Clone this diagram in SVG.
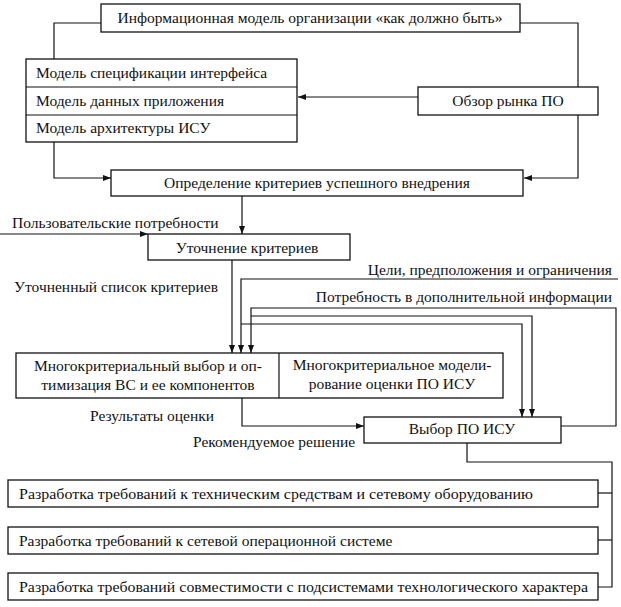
<svg xmlns="http://www.w3.org/2000/svg" width="621" height="607" viewBox="0 0 621 607" font-family="Liberation Serif" font-size="15.5">
<defs>
<marker id="ah" viewBox="0 0 8 6" refX="8" refY="3" markerWidth="8" markerHeight="6" markerUnits="userSpaceOnUse" orient="auto">
<path d="M0,0 L8,3 L0,6 Z" fill="#111"/>
</marker>
</defs>
<style>
rect{fill:#fff;stroke:#111;stroke-width:1.3}
.ln{fill:none;stroke:#111;stroke-width:1.2}
.d{stroke:#111;stroke-width:1.2}
text{fill:#111}
.c{text-anchor:middle}
.r{text-anchor:end}
</style>
<rect width="621" height="607" style="fill:#fff;stroke:none"/>
<g id="connectors">
<polyline class="ln" points="101,23 54,23 54,59"/>
<polyline class="ln" points="520,23 578,23 578,178 524,178" marker-end="url(#ah)"/>
<polyline class="ln" points="418,97 298,97" marker-end="url(#ah)"/>
<polyline class="ln" points="54,142 54,178 111,178" marker-end="url(#ah)"/>
<polyline class="ln" points="242,196 242,234" marker-end="url(#ah)"/>
<polyline class="ln" points="0,234 148,234" marker-end="url(#ah)"/>
<polyline class="ln" points="232,260 232,353" marker-end="url(#ah)"/>
<polyline class="ln" points="618,279 241,279 241,353" marker-end="url(#ah)"/>
<polyline class="ln" points="561,426 616,426 616,308 251,308 251,353" marker-end="url(#ah)"/>
<polyline class="ln" points="251,316 532,316 532,417" marker-end="url(#ah)"/>
<polyline class="ln" points="241,324 522,324 522,417" marker-end="url(#ah)"/>
<polyline class="ln" points="242,398 242,426 364,426" marker-end="url(#ah)"/>
<polyline class="ln" points="467,443 467,462 612,462 612,587 598,587"/>
<polyline class="ln" points="598,493 612,493"/>
<polyline class="ln" points="598,540 612,540"/>
<text x="12" y="228">Пользовательские потребности</text>
<text x="14" y="292">Уточненный список критериев</text>
<text x="612" y="275" class="r">Цели, предположения и ограничения</text>
<text x="612" y="302" class="r">Потребность в дополнительной информации</text>
<text x="90" y="421">Результаты оценки</text>
<text x="193" y="447">Рекомендуемое решение</text>
</g>
<g id="node-info-model">
<rect x="101" y="4" width="419" height="28"/>
<text x="310" y="23" class="c">Информационная модель организации «как должно быть»</text>
</g>
<g id="node-models">
<rect x="26" y="59" width="271" height="83"/>
<line class="d" x1="26" y1="87" x2="297" y2="87"/>
<line class="d" x1="26" y1="115" x2="297" y2="115"/>
<text x="36" y="78">Модель спецификации интерфейса</text>
<text x="36" y="106">Модель данных приложения</text>
<text x="36" y="133">Модель архитектуры ИСУ</text>
</g>
<g id="node-market">
<rect x="418" y="87" width="180" height="28"/>
<text x="508" y="106" class="c">Обзор рынка ПО</text>
</g>
<g id="node-criteria">
<rect x="111" y="170" width="412" height="26"/>
<text x="317" y="188" class="c">Определение критериев успешного внедрения</text>
</g>
<g id="node-refine">
<rect x="148" y="234" width="202" height="26"/>
<text x="247" y="253" class="c">Уточнение критериев</text>
</g>
<g id="node-multi">
<rect x="16" y="353" width="487" height="45"/>
<line class="d" x1="279" y1="353" x2="279" y2="398"/>
<text x="148" y="371" class="c">Многокритериальный выбор и оп-</text>
<text x="148" y="390" class="c">тимизация ВС и ее компонентов</text>
<text x="392" y="370" class="c">Многокритериальное модели-</text>
<text x="392" y="389" class="c">рование оценки ПО ИСУ</text>
</g>
<g id="node-choice">
<rect x="364" y="417" width="197" height="26"/>
<text x="462" y="434" class="c">Выбор ПО ИСУ</text>
</g>
<g id="node-req-hw">
<rect x="8" y="480" width="590" height="27"/>
<text x="19" y="499" textLength="514" lengthAdjust="spacingAndGlyphs">Разработка требований к техническим средствам и сетевому оборудованию</text>
</g>
<g id="node-req-os">
<rect x="8" y="527" width="590" height="27"/>
<text x="19" y="546">Разработка требований к сетевой операционной системе</text>
</g>
<g id="node-req-compat">
<rect x="8" y="573" width="590" height="27"/>
<text x="19" y="592" textLength="569" lengthAdjust="spacingAndGlyphs">Разработка требований совместимости с подсистемами технологического характера</text>
</g>
</svg>
